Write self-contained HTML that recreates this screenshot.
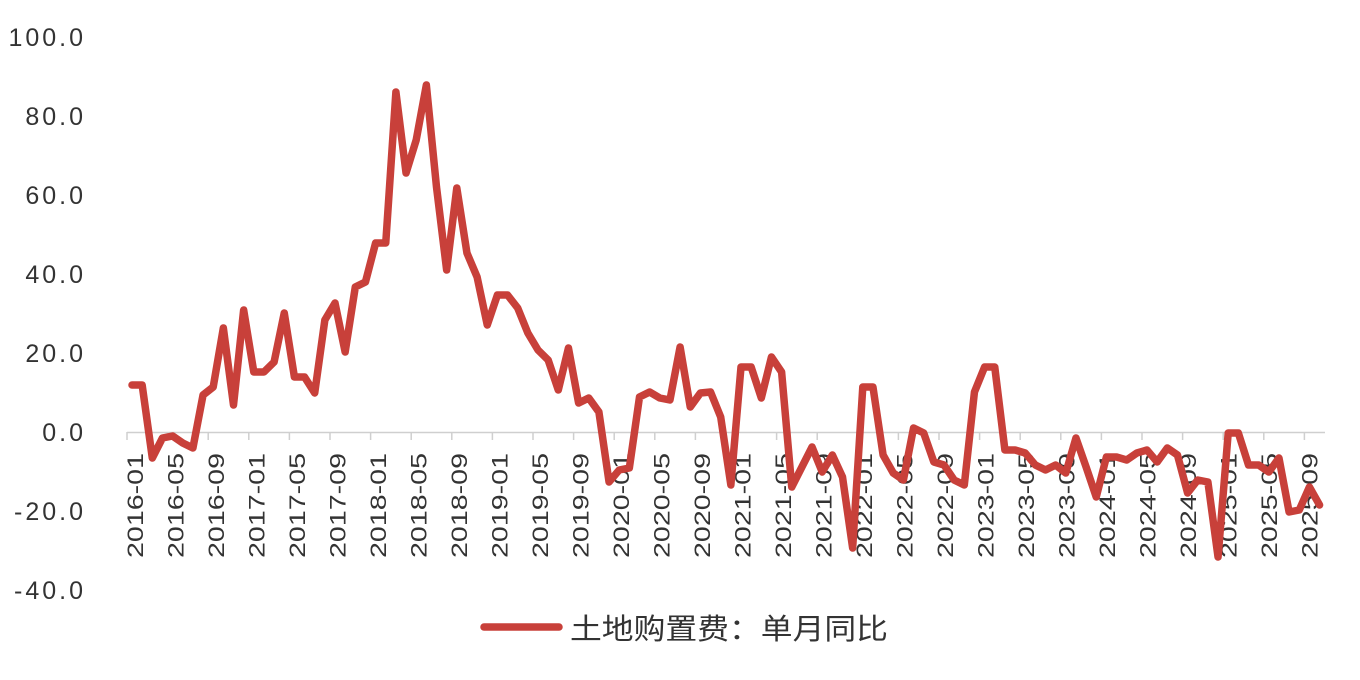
<!DOCTYPE html>
<html><head><meta charset="utf-8"><style>html,body{margin:0;padding:0;background:#fff}svg{display:block}</style></head>
<body>
<svg width="1360" height="680" viewBox="0 0 1360 680" xmlns="http://www.w3.org/2000/svg">
<rect width="1360" height="680" fill="#fff"/>
<g font-family="Liberation Sans, sans-serif" font-size="25" fill="#333" text-anchor="end" letter-spacing="3">
<text x="86" y="46">100.0</text>
<text x="86" y="125">80.0</text>
<text x="86" y="204">60.0</text>
<text x="86" y="283">40.0</text>
<text x="86" y="362">20.0</text>
<text x="86" y="441">0.0</text>
<text x="86" y="520">-20.0</text>
<text x="86" y="599">-40.0</text>
</g>
<line x1="127" y1="432.5" x2="1325" y2="432.5" stroke="#cfcfcf" stroke-width="1.5"/>
<g stroke="#cfcfcf" stroke-width="1.5" id="ticks"></g>
<g id="xl" font-family="Liberation Sans, sans-serif" font-size="22" fill="#333"></g>
<polyline fill="none" stroke="#c8403a" stroke-width="7.5" stroke-linejoin="round" stroke-linecap="round" vector-effect="non-scaling-stroke" transform="translate(132,0) scale(10.15,1)" points="0,385 1,385 2,458 3,438 4,436 5,443 6,448 7,395 8,387 9,328 10,405 11,310 12,372 13,372 14,362 15,313 16,377 17,377 18,393 19,320 20,303 21,352 22,287 23,282 24,243 25,243 26,92 27,173 28,140 29,85 30,187 31,270 32,188 33,253 34,277 35,325 36,295 37,295 38,308 39,333 40,350 41,360 42,390 43,348 44,403 45,398 46,412 47,482 48,470 49,468 50,397 51,392 52,398 53,400 54,347 55,407 56,393 57,392 58,417 59,485 60,367 61,367 62,398 63,357 64,372 65,487 66,467 67,447 68,472 69,455 70,477 71,548 72,387 73,387 74,455 75,473 76,480 77,428 78,433 79,462 80,465 81,480 82,485 83,392 84,367 85,367 86,450 87,450 88,453 89,465 90,470 91,465 92,473 93,438 94,467 95,497 96,457 97,457 98,460 99,453 100,450 101,462 102,448 103,455 104,493 105,480 106,482 107,557 108,433 109,433 110,465 111,465 112,472 113,458 114,512 115,510 116,487 117,505"/>
<line x1="484" y1="627" x2="559" y2="627" stroke="#c8403a" stroke-width="7.5" stroke-linecap="round"/>
<text x="570" y="639" font-family="Liberation Sans, 'Noto Sans CJK SC', sans-serif" font-size="29" fill="#333" textLength="318" lengthAdjust="spacingAndGlyphs">土地购置费：单月同比</text>
<script>
var ns="http://www.w3.org/2000/svg",t=document.getElementById("ticks"),xl=document.getElementById("xl");
for(var k=0;k<30;k++){var x=127+40.6*k;if(x>1326)break;var l=document.createElementNS(ns,"line");l.setAttribute("x1",x);l.setAttribute("x2",x);l.setAttribute("y1",432);l.setAttribute("y2",440);t.appendChild(l);}
for(var k=0;k<30;k++){var m=k*4,y=2016+Math.floor(m/12),mo=m%12+1;var s=y+"-"+(mo<10?"0":"")+mo;var cx=135+40.5*k;var e=document.createElementNS(ns,"text");e.setAttribute("transform","translate("+(cx+8)+",558) rotate(-90)");e.setAttribute("textLength","105");e.setAttribute("lengthAdjust","spacingAndGlyphs");e.textContent=s;xl.appendChild(e);}
</script>
</svg>
</body></html>
